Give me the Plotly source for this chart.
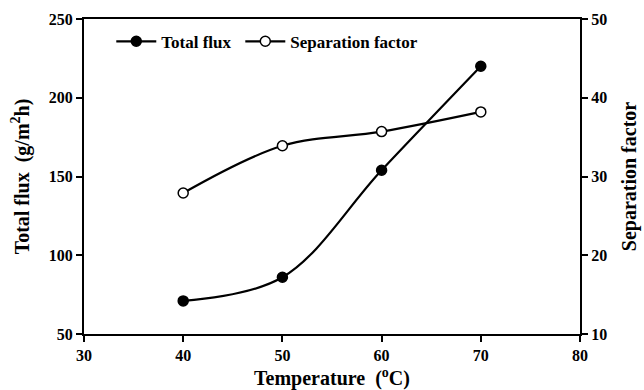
import plotly.graph_objects as go

temperature = [40, 50, 60, 70]
total_flux = [71, 86, 154, 220]
separation_factor = [27.9, 33.9, 35.7, 38.2]

x_ticks = [30, 40, 50, 60, 70, 80]
y1_ticks = [50, 100, 150, 200, 250]
y2_ticks = [10, 20, 30, 40, 50]

FONT = "Liberation Serif"

fig = go.Figure()
fig.add_trace(go.Scatter(
    x=temperature, y=total_flux, name="<b>Total flux</b>\u00a0",
    mode="lines+markers", line=dict(color="black", width=2.2, shape="spline", smoothing=1.0),
    marker=dict(symbol="circle", size=10, color="black", line=dict(color="black", width=1.5)),
))
fig.add_trace(go.Scatter(
    x=temperature, y=separation_factor, name="<b>Separation factor</b>", yaxis="y2",
    mode="lines+markers", line=dict(color="black", width=2.2, shape="spline", smoothing=1.0),
    marker=dict(symbol="circle", size=10, color="white", line=dict(color="black", width=1.5)),
))

axis_common = dict(
    showline=True, linecolor="black", linewidth=2, ticks="outside", ticklen=6,
    tickwidth=2, tickcolor="black", showgrid=False, zeroline=False, automargin=False,
    tickfont=dict(family=FONT, size=16, color="black"),
)

fig.update_layout(
    width=644, height=390,
    margin=dict(l=84, r=64, t=19, b=56),
    paper_bgcolor="white", plot_bgcolor="white",
    font=dict(family=FONT, color="black"),
    showlegend=True,
    legend=dict(orientation="h", x=0.055, y=0.985, xanchor="left", yanchor="top",
                font=dict(family=FONT, size=17, color="black"), bgcolor="rgba(0,0,0,0)",
                itemwidth=40, tracegroupgap=0),
    xaxis=dict(range=[30, 80], tickvals=x_ticks, mirror=True,
               ticktext=[f"<b>{v}</b>" for v in x_ticks],
               title=dict(text="<b>Temperature  (<sup>o</sup>C)</b>", font=dict(family=FONT, size=20), standoff=8),
               **axis_common),
    yaxis=dict(range=[50, 250], tickvals=y1_ticks,
               ticktext=[f"<b>{v}</b>" for v in y1_ticks],
               title=dict(text="<b>Total flux  (g/m<sup>2</sup>h)</b>", font=dict(family=FONT, size=20), standoff=14),
               **axis_common),
    yaxis2=dict(range=[10, 50], tickvals=y2_ticks, overlaying="y", side="right",
                ticktext=[f"<b>{v}</b>" for v in y2_ticks],
                title=dict(text="<b>Separation factor</b>", font=dict(family=FONT, size=20), standoff=16),
                **axis_common),
)

fig.write_html("out.html", config={"displayModeBar": False},
               post_script="document.body.style.margin='0';document.body.style.overflow='hidden';")
